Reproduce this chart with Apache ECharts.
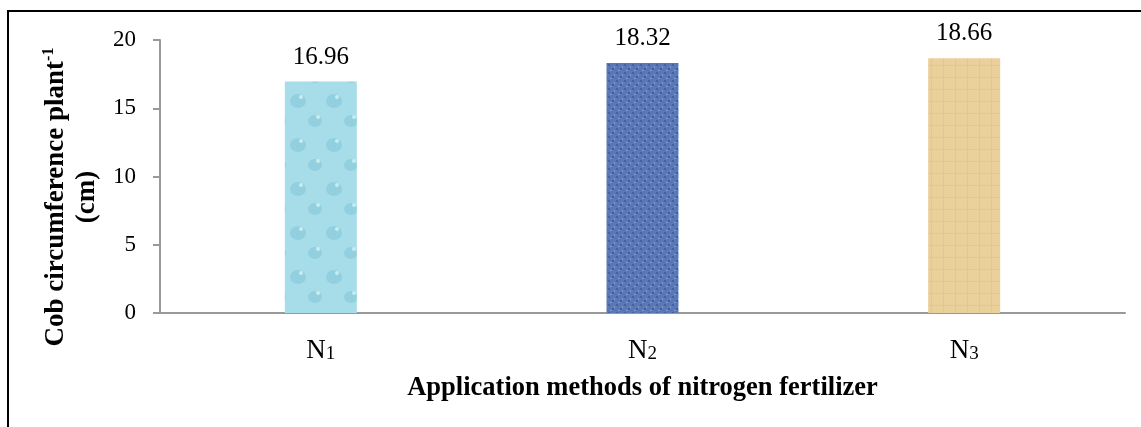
<!DOCTYPE html>
<html>
<head>
<meta charset="utf-8">
<script src="https://cdn.jsdelivr.net/npm/echarts@6/dist/echarts.min.js"></script>
<style>
  body { margin: 0; background: #fff; overflow: hidden; }
  .frame {
    position: absolute;
    left: 7px;
    top: 10px;
    width: 1200px;
    height: 500px;
    border-left: 2px solid #000;
    border-top: 2px solid #000;
  }
  #chart { position: absolute; left: 0; top: 0; width: 1141px; height: 427px; }
</style>
</head>
<body>
<div class="frame"></div>
<div id="chart"></div>
<script>
const categories = ["N1", "N2", "N3"];
const values = [16.96, 18.32, 18.66];
const yTicks = [0, 5, 10, 15, 20];

// small canvas textures to mimic the picture fills of the bars
function makeTexture(kind) {
  let c = document.createElement("canvas");
  let ctx = c.getContext("2d");
  if (kind === "water") {
    c.width = 36; c.height = 44;
    ctx.fillStyle = "#a6dde9";
    ctx.fillRect(0, 0, 36, 44);
    ctx.fillStyle = "#93d0df";
    ctx.beginPath(); ctx.ellipse(10, 13, 8, 7, 0, 0, Math.PI * 2); ctx.fill();
    ctx.beginPath(); ctx.ellipse(27, 33, 7, 6, 0, 0, Math.PI * 2); ctx.fill();
    ctx.fillStyle = "#c4ecf3";
    ctx.beginPath(); ctx.arc(13, 9, 2, 0, Math.PI * 2); ctx.fill();
    ctx.beginPath(); ctx.arc(30, 29, 2, 0, Math.PI * 2); ctx.fill();
  } else if (kind === "denim") {
    c.width = 8; c.height = 8;
    ctx.fillStyle = "#5b78b6";
    ctx.fillRect(0, 0, 8, 8);
    ctx.fillStyle = "#4661a2";
    ctx.fillRect(0, 0, 2, 2);
    ctx.fillRect(4, 4, 2, 2);
    ctx.fillStyle = "#819ad0";
    ctx.fillRect(2, 6, 2, 1);
    ctx.fillRect(6, 2, 1, 2);
  } else {
    c.width = 12; c.height = 12;
    ctx.fillStyle = "#ead09a";
    ctx.fillRect(0, 0, 12, 12);
    ctx.fillStyle = "#e2c791";
    ctx.fillRect(0, 5, 12, 1);
    ctx.fillRect(7, 0, 1, 12);
  }
  return { image: c, repeat: "repeat" };
}

const barFills = [makeTexture("water"), makeTexture("denim"), makeTexture("paper")];

let chart = echarts.init(document.getElementById("chart"));

let option = {
  animation: false,
  grid: {
    left: 160,
    right: 16,
    top: 40,
    bottom: 114
  },
  xAxis: {
    type: "category",
    data: categories,
    name: "Application methods of nitrogen fertilizer",
    nameLocation: "middle",
    nameGap: 62,
    nameTextStyle: {
      fontFamily: "Liberation Serif",
      fontWeight: "bold",
      fontSize: 26.5,
      color: "#000"
    },
    axisLine: { lineStyle: { color: "#999", width: 2 } },
    axisTick: { show: false },
    axisLabel: {
      margin: 24,
      formatter: function (v) {
        return "{n|" + v.charAt(0) + "}{d|" + v.slice(1) + "}";
      },
      rich: {
        n: { fontFamily: "Liberation Serif", fontSize: 27, color: "#000", verticalAlign: "bottom" },
        d: { fontFamily: "Liberation Serif", fontSize: 19, color: "#000", verticalAlign: "bottom" }
      }
    }
  },
  yAxis: {
    type: "value",
    min: yTicks[0],
    max: yTicks[yTicks.length - 1],
    interval: yTicks[1] - yTicks[0],
    axisLine: { show: true, lineStyle: { color: "#999", width: 2 } },
    axisTick: { show: true, inside: false, length: 7, lineStyle: { color: "#999", width: 2 } },
    splitLine: { show: false },
    axisLabel: {
      margin: 24,
      fontFamily: "Liberation Serif",
      fontSize: 23,
      color: "#000"
    }
  },
  graphic: [
    {
      type: "text",
      x: 72,
      y: 197,
      rotation: Math.PI / 2,
      style: {
        text: "{t|Cob circumference plant}{s|-1}\n{t|(cm)}",
        align: "center",
        verticalAlign: "middle",
        lineHeight: 31,
        rich: {
          t: { fontFamily: "Liberation Serif", fontWeight: "bold", fontSize: 27, lineHeight: 31, fill: "#000" },
          s: { fontFamily: "Liberation Serif", fontWeight: "bold", fontSize: 16, lineHeight: 31, verticalAlign: "top", fill: "#000" }
        }
      }
    }
  ],
  series: [
    {
      type: "bar",
      barWidth: 72,
      data: values.map(function (v, i) {
        return { value: v, itemStyle: { color: barFills[i] } };
      }),
      label: {
        show: true,
        position: "top",
        distance: 12,
        fontFamily: "Liberation Serif",
        fontSize: 25,
        color: "#000",
        formatter: function (p) { return p.value.toFixed(2); }
      }
    }
  ]
};

chart.setOption(option);
</script>
</body>
</html>
